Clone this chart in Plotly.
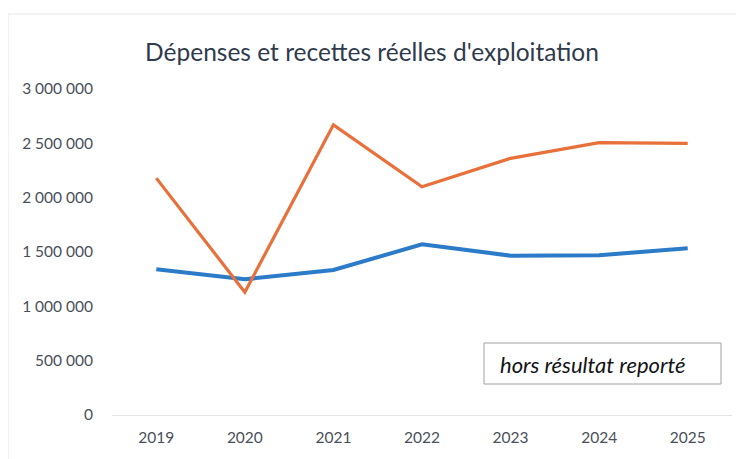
import plotly.graph_objects as go

years = ["2019", "2020", "2021", "2022", "2023", "2024", "2025"]
depenses = [1341000, 1249000, 1334000, 1571000, 1466000, 1470000, 1534000]
recettes = [2180000, 1130000, 2670000, 2100000, 2362000, 2506000, 2500000]
y_ticks = [0, 500000, 1000000, 1500000, 2000000, 2500000, 3000000]

# page has an 8px body margin: figure coordinates = page coordinates - 8
OFF = 8
W, H = 744 - OFF, 459 - OFF
L, T = 112 - OFF, 89 - OFF
R = W - (732 - OFF)
B = H - (415 - OFF)
PW, PH = W - L - R, H - T - B


def px(xp):
    return (xp - OFF - L) / PW


def py(yp):
    return (H - B - (yp - OFF)) / PH


fig = go.Figure()
fig.add_trace(go.Scatter(x=years, y=depenses, mode="lines", name="Dépenses",
                         line=dict(color="#2B7BC9", width=4)))
fig.add_trace(go.Scatter(x=years, y=recettes, mode="lines", name="Recettes",
                         line=dict(color="#E8703A", width=3.2)))

fig.update_layout(
    width=W, height=H,
    margin=dict(l=L, r=R, t=T, b=B),
    paper_bgcolor="white", plot_bgcolor="white",
    showlegend=False,
    separators=", ",
    font=dict(family="Lato, Open Sans, sans-serif", color="#595959"),
    title=dict(text="Dépenses et recettes réelles d'exploitation",
               x=(372 - OFF) / W, xref="container", y=1 - (52 - OFF) / H, yref="container",
               xanchor="center", yanchor="middle",
               font=dict(size=24.5, color="#2F3B4C", family="Lato, Open Sans, sans-serif")),
    xaxis=dict(type="category", range=[-0.5, 6.5], showgrid=False,
               showline=True, linecolor="#E3E3E3", linewidth=1, zeroline=False,
               ticks="", tickfont=dict(size=15.5, color="#4A4F5A"), ticklabelstandoff=8,
               fixedrange=True),
    yaxis=dict(range=[0, 3000000], tickvals=y_ticks, tickformat=",d",
               showgrid=False, zeroline=False, showline=False, ticks="",
               tickfont=dict(size=15.5, color="#4A4F5A"), ticklabelstandoff=18,
               fixedrange=True),
    annotations=[dict(
        text="<i>hors résultat reporté</i>", xref="paper", yref="paper",
        x=px(498), y=py(364),
        xanchor="left", yanchor="middle", showarrow=False,
        font=dict(size=22, color="#141418", family="Lato, Open Sans, sans-serif"))],
    shapes=[
        dict(type="rect", xref="paper", yref="paper",
             x0=px(8), x1=px(741), y0=py(470), y1=py(14),
             line=dict(color="#E6E6E6", width=1), fillcolor="rgba(0,0,0,0)",
             layer="below"),
        dict(type="rect", xref="paper", yref="paper",
             x0=px(484), x1=px(721), y0=py(384), y1=py(343),
             line=dict(color="#A0A0A0", width=1), fillcolor="white",
             layer="above"),
    ],
)

fig.write_html("out.html")
